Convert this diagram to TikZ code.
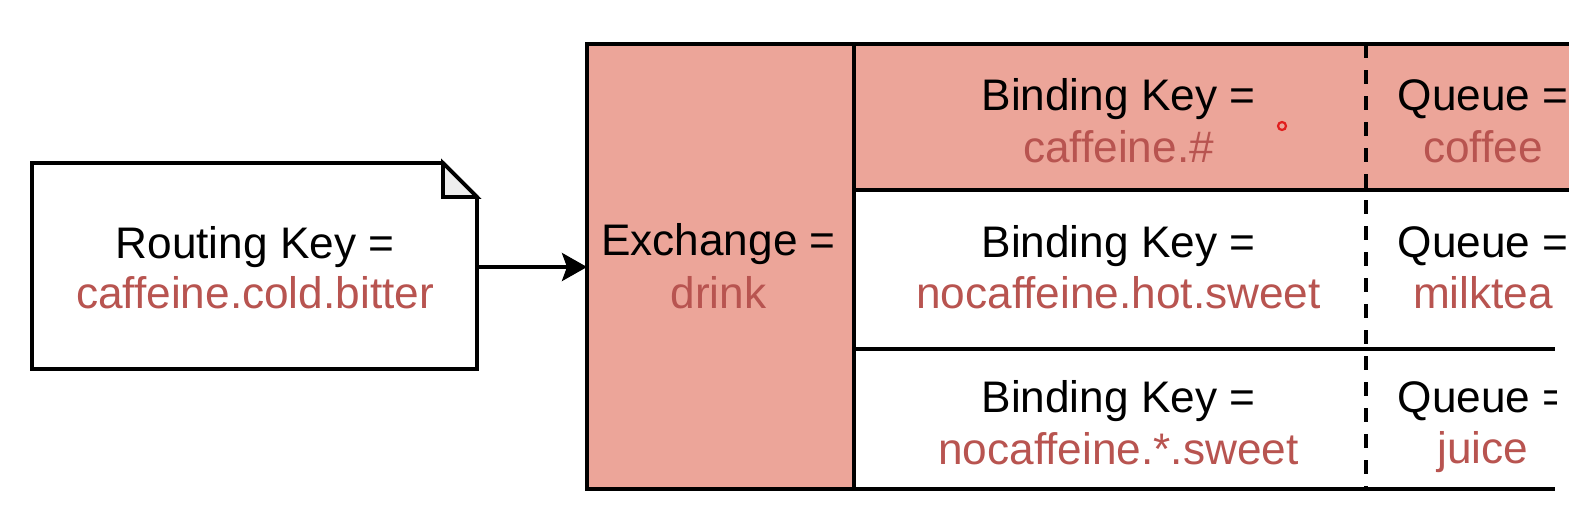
\documentclass[tikz,border=0pt]{standalone}
\usepackage{fontspec}
\setmainfont{Liberation Sans}
\usetikzlibrary{arrows.meta}
\definecolor{pinkfill}{RGB}{236,165,153}
\definecolor{keyred}{RGB}{184,84,80}
\definecolor{foldgray}{RGB}{238,238,238}
\definecolor{dotred}{RGB}{225,30,30}
\begin{document}
\begin{tikzpicture}[x=0.5pt,y=-0.5pt,
  line width=1.9pt,
  txt/.style={anchor=base, inner sep=0pt, font=\fontsize{22.1}{25}\selectfont, text=black},
  val/.style={txt, text=keyred},
  tablebox/.style={draw=black, line width=1.9pt, inner sep=0pt, outer sep=0pt, anchor=north west},
  rowline/.style={draw=black, line width=1.9pt},
  sepline/.style={draw=black, line width=2pt, dash pattern=on 7pt off 6pt},
  link/.style={draw=black, line width=1.9pt, -{Stealth[length=12.5pt,width=14pt,inset=2.5pt]}},
]
\useasboundingbox (0,0) rectangle (1569,504);
\clip (0,0) rectangle (1569,504);

% routing key note
\draw[line join=miter, fill=white] (32,163) -- (443,163) -- (477,197) -- (477,369) -- (32,369) -- cycle;
\filldraw[fill=foldgray, line join=miter] (443,163) -- (443,197) -- (477,197) -- cycle;
\coordinate (noteE) at (477,267);
\node[txt] (rk1) at (255,258) {Routing Key =};
\node[val] (rk2) at (255,308) {caffeine.cold.bitter};

% table background
\fill[pinkfill] (854,44) rectangle (1580,190);
\node[tablebox, fill=pinkfill, minimum width=133.5pt, minimum height=222.5pt] (exch) at (587,44) {};
\draw[rowline] (587,44) -- (1580,44);
\draw[rowline] (854,190) -- (1580,190);
\draw[rowline] (854,349) -- (1555,349);
\draw[rowline] (587,489) -- (1555,489);
\draw[sepline] (1366,44) -- (1366,489);

% exchange text
\node[txt] (ex1) at (718.5,255) {Exchange =};
\node[val] (ex2) at (718.5,308) {drink};

% rows
\node[txt] (b11) at (1118.5,110) {Binding Key =};
\node[val] (b12) at (1118.5,162) {caffeine.\#};
\node[txt] (q11) at (1483,110) {Queue =};
\node[val] (q12) at (1483,162) {coffee};

\node[txt] (b21) at (1118.5,257) {Binding Key =};
\node[val] (b22) at (1118.5,308) {nocaffeine.hot.sweet};
\node[txt] (q21) at (1483,257) {Queue =};
\node[val] (q22) at (1483,308) {milktea};

\node[txt] (b31) at (1118.5,412) {Binding Key =};
\node[val] (b32) at (1118.5,464) {nocaffeine.*.sweet};
\begin{scope}
\clip (1366,349) rectangle (1556,504);
\node[txt] (q31) at (1483,412) {Queue =};
\node[val] (q32) at (1483,463) {juice};
\end{scope}

% pointer marker
\draw[dotred, line width=1.1pt] (1282,126) circle (4);

% connector
\draw[link] (noteE) -- (noteE -| exch.west);
\end{tikzpicture}
\end{document}
